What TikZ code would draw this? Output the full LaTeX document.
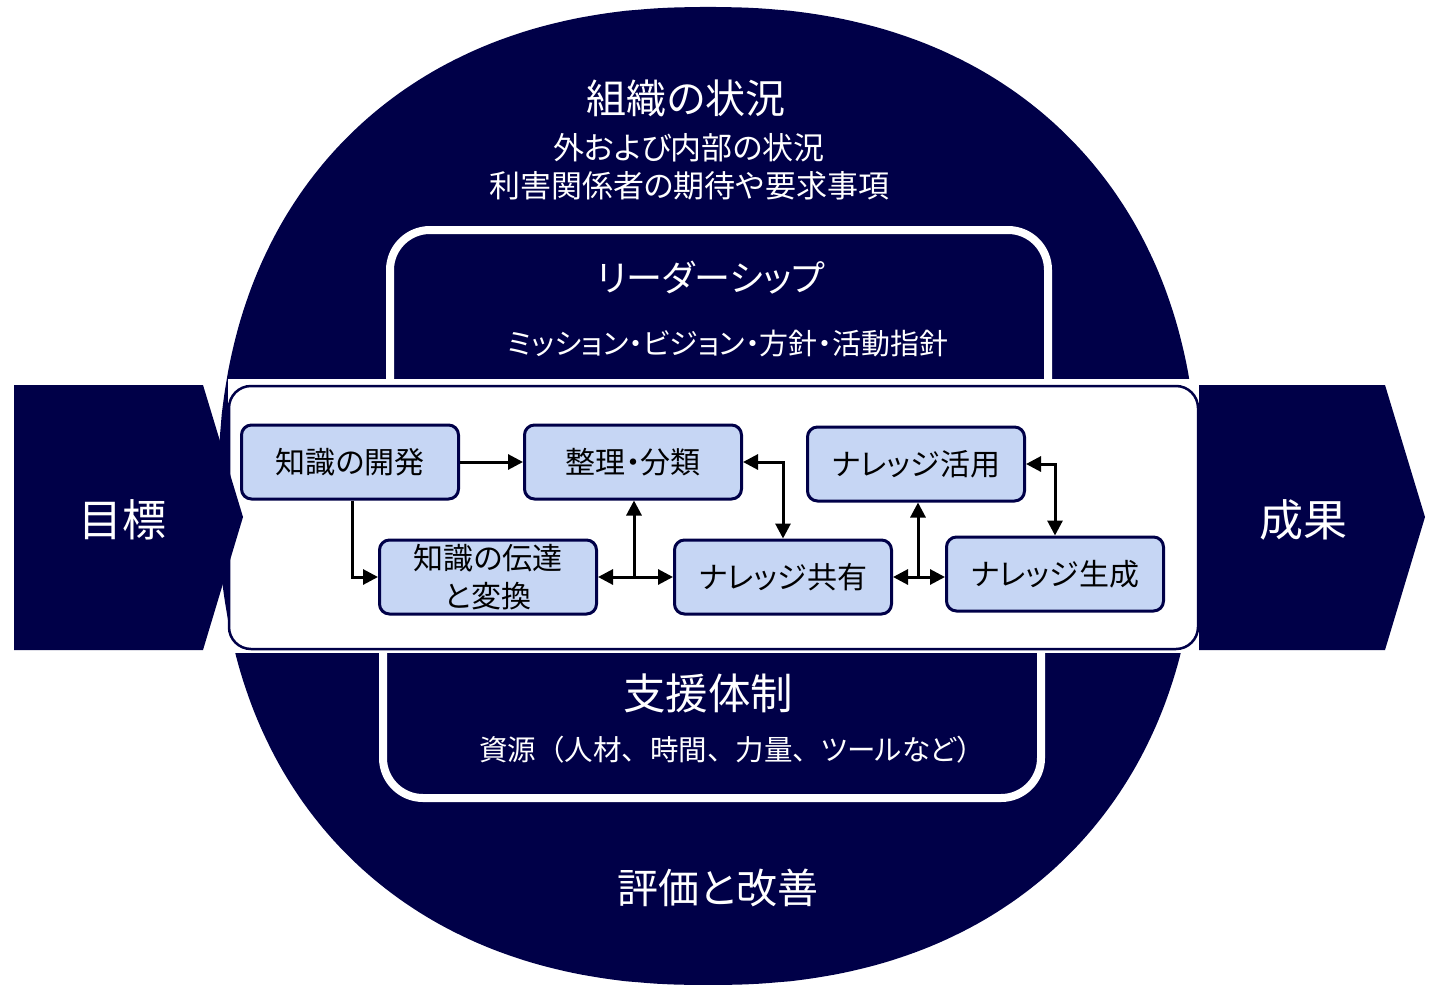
\documentclass[tikz,border=0pt]{standalone}
\usepackage{fontspec}
\usetikzlibrary{arrows.meta}
\newfontfamily\jp[RawFeature=+palt]{Noto Sans CJK JP}
\newfontfamily\jpn{Noto Sans CJK JP}
\definecolor{navy}{RGB}{0,0,72}
\definecolor{lblue}{RGB}{198,214,244}
\begin{document}
\begin{tikzpicture}[x=1pt,y=-1pt,
  proc/.style={draw=navy, line width=3pt, fill=lblue, rounded corners=10pt,
    minimum width=217pt, minimum height=74pt, inner sep=0pt, align=center,
    text=black, font=\jp\fontsize{30}{36}\selectfont},
  title/.style={text=white, font=\jp\fontsize{40}{46}\selectfont, inner sep=0pt},
  sub/.style={text=white, font=\jp\fontsize{29}{38}\selectfont, inner sep=0pt, align=center},
  arr/.style={line width=3pt, black, -{Triangle[length=15pt,width=15pt]}},
  darr/.style={line width=3pt, black, {Triangle[length=15pt,width=15pt]}-{Triangle[length=15pt,width=15pt]}},
  panel/.style={draw=white, line width=8pt, fill=navy, rounded corners=40pt},
  chev/.style={fill=navy}]
\useasboundingbox (0,0) rectangle (1432,985);
% outer superellipse
\fill[navy] plot[domain=0.5:359.5, samples=360, variable=\t]
  ({708+490*sign(cos(\t))*pow(abs(cos(\t)),0.889)},
   {496+489*sign(sin(\t))*pow(abs(sin(\t)),0.889)}) -- cycle;
% leadership and support panels
\draw[panel] (390,230) rectangle (1048,430);
\draw[panel] (383,610) rectangle (1041,798);
% white band and inner frame
\fill[white] (228,379) rectangle (1199,653);
\draw[navy, line width=2.5pt, fill=white, rounded corners=22pt] (229,386) rectangle (1198,649);
% chevrons
\fill[chev] (14,385) -- (203,385) -- (243,517) -- (203,650) -- (14,650) -- cycle;
\fill[chev] (1199,385) -- (1385,385) -- (1425,517) -- (1385,650) -- (1199,650) -- cycle;
\node[title, font=\jp\fontsize{44}{50}\selectfont] (goal) at (122,520) {目標};
\node[title, font=\jp\fontsize{44}{50}\selectfont] (result) at (1303,520) {成果};
% texts
\node[title] (ctx) at (686,98) {組織の状況};
\node[sub, font=\jp\fontsize{31}{38}\selectfont] (ctxsub) at (689,167) {外および内部の状況\\利害関係者の期待や要求事項};
\node[title, font=\jp\fontsize{36}{42}\selectfont] (lead) at (711,278) {リーダーシップ};
\node[sub] (leadsub) at (728,344) {ミッション・ビジョン・方針・活動指針};
\node[title, font=\jp\fontsize{42.5}{48}\selectfont] (supp) at (708,693) {支援体制};
\node[sub, font=\jp\fontsize{28.5}{36}\selectfont] (suppsub) at (732,750) {資源{\jpn （}人材{\jpn 、}時間{\jpn 、}力量{\jpn 、}ツールなど{\jpn ）}};
\node[title, font=\jp\fontsize{41}{47}\selectfont] (eval) at (718,888) {評価と改善};
% process boxes
\node[proc] (dev) at (350,462) {知識の開発};
\node[proc] (org) at (633,462) {整理・分類};
\node[proc] (use) at (916,464) {ナレッジ活用};
\node[proc, font=\jp\fontsize{30}{38}\selectfont] (trans) at (488,577) {知識の伝達\\と変換};
\node[proc] (share) at (783,577) {ナレッジ共有};
\node[proc] (gen) at (1055,574) {ナレッジ生成};
% connectors
\coordinate (j1) at (634,577);
\coordinate (j2) at (918,577);
\draw[arr] (dev.east) -- (org.west);
\draw[arr] ([xshift=2pt]dev.south) |- (trans.west);
\draw[arr] (j1) -- (j1 |- org.south);
\draw[arr] (j1) -- (trans.east);
\draw[arr] (j1) -- (share.west);
\draw[darr] (org.east) -| (share.north);
\draw[arr] (j2) -- (share.east);
\draw[arr] (j2) -- (j2 -| gen.west);
\draw[arr] (j2) -- (j2 |- use.south);
\draw[darr] (use.east) -| (gen.north);
\end{tikzpicture}
\end{document}
